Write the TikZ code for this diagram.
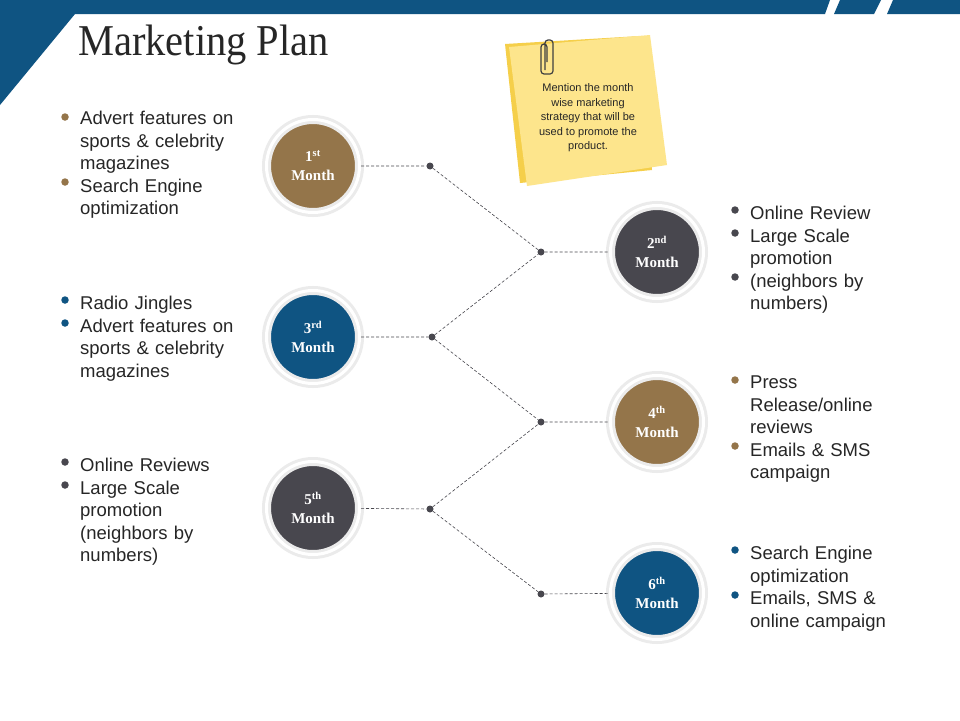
\documentclass[tikz,border=0pt]{standalone}
\usepackage{fontspec}
\setmainfont{Liberation Serif}
\setsansfont{Liberation Sans}
\definecolor{navy}{HTML}{0F5482}
\definecolor{brn}{HTML}{94754A}
\definecolor{dgr}{HTML}{48474E}
\definecolor{ylw}{HTML}{FDE58C}
\definecolor{ylwd}{HTML}{F5CF4A}
\begin{document}
\begin{tikzpicture}[x=1pt,y=-1pt,
  month/.style={circle,minimum size=93pt,inner sep=0pt,text=white,font=\bfseries\fontsize{15}{19}\selectfont,align=center,double=white,double distance=3pt,draw=black!8,line width=3pt},
  jn/.style={circle,fill=dgr,inner sep=0pt,minimum size=7pt},
  conn/.style={densely dashed,draw=dgr,line width=0.6pt},
  txt/.style={anchor=north west,font=\sffamily\fontsize{18.5}{22.5}\selectfont,align=left,text width=170pt,inner sep=0pt,text=black!85},
  bl/.style={circle,inner sep=0pt,minimum size=7.5pt}]
\useasboundingbox (0,0) rectangle (960,720);
\fill[white] (0,0) rectangle (960,720);
% header
\fill[navy] (0,0) -- (830,0) -- (825,14) -- (75,14) -- (0,105) -- cycle;
\fill[navy] (840,0) -- (881,0) -- (874,14) -- (834,14) -- cycle;
\fill[navy] (893,0) -- (960,0) -- (960,14) -- (887,14) -- cycle;
\node[anchor=west,inner sep=0pt,font=\fontsize{44}{46}\selectfont,text=black!85,xscale=0.92,transform shape] (title) at (78,45) {Marketing Plan};
% sticky note
\fill[ylwd] (505,44) -- (640,36) -- (652,170) -- (520,183) -- cycle;
\fill[ylw] (509,47) -- (650,35) -- (667,165) -- (527,186) -- cycle;
\node[font=\sffamily\fontsize{11}{14.5}\selectfont,align=center,text=black!85] (note) at (588,118) {Mention the month\\wise marketing\\strategy that will be\\used to promote the\\product.};
\draw[black!75,line width=1.2pt,rounded corners=3pt] (545,70) -- (545,40) -- (553,40) -- (553,74) -- (541,74) -- (541,44) -- (547,44) -- (547,62);
% circles
\node[month,fill=brn] (m1) at (313,166) {1\textsuperscript{st}\\Month};
\node[month,fill=dgr] (m2) at (657,252) {2\textsuperscript{nd}\\Month};
\node[month,fill=navy] (m3) at (313,337) {3\textsuperscript{rd}\\Month};
\node[month,fill=brn] (m4) at (657,422) {4\textsuperscript{th}\\Month};
\node[month,fill=dgr] (m5) at (313,508) {5\textsuperscript{th}\\Month};
\node[month,fill=navy] (m6) at (657,593) {6\textsuperscript{th}\\Month};
\node[jn] (j1) at (430,166) {};
\node[jn] (j2) at (541,252) {};
\node[jn] (j3) at (432,337) {};
\node[jn] (j4) at (541,422) {};
\node[jn] (j5) at (430,509) {};
\node[jn] (j6) at (541,594) {};
\draw[conn] (m1) -- (j1) -- (j2) -- (m2);
\draw[conn] (m3) -- (j3) -- (j2);
\draw[conn] (j3) -- (j4) -- (m4);
\draw[conn] (m5) -- (j5) -- (j4);
\draw[conn] (j5) -- (j6) -- (m6);
% texts
\node[txt] (t1) at (80,111) {Advert features on\\sports \& celebrity\\magazines\\Search Engine\\optimization};
\node[bl,fill=brn] (b1a) at (65,117) {};
\node[bl,fill=brn] (b1b) at (65,182) {};
\node[txt] (t3) at (80,296) {Radio Jingles\\Advert features on\\sports \& celebrity\\magazines};
\node[bl,fill=navy] (b3a) at (65,300) {};
\node[bl,fill=navy] (b3b) at (65,323) {};
\node[txt] (t5) at (80,458) {Online Reviews\\Large Scale\\promotion\\(neighbors by\\numbers)};
\node[bl,fill=dgr] (b5a) at (65,462) {};
\node[bl,fill=dgr] (b5b) at (65,485) {};
\node[txt] (t2) at (750,206) {Online Review\\Large Scale\\promotion\\(neighbors by\\numbers)};
\node[bl,fill=dgr] (b2a) at (735,210) {};
\node[bl,fill=dgr] (b2b) at (735,233) {};
\node[bl,fill=dgr] (b2c) at (735,277) {};
\node[txt] (t4) at (750,376) {Press\\Release/online\\reviews\\Emails \& SMS\\campaign};
\node[bl,fill=brn] (b4a) at (735,380) {};
\node[bl,fill=brn] (b4b) at (735,446) {};
\node[txt] (t6) at (750,546) {Search Engine\\optimization\\Emails, SMS \&\\online campaign};
\node[bl,fill=navy] (b6a) at (735,550) {};
\node[bl,fill=navy] (b6b) at (735,595) {};
\end{tikzpicture}
\end{document}
